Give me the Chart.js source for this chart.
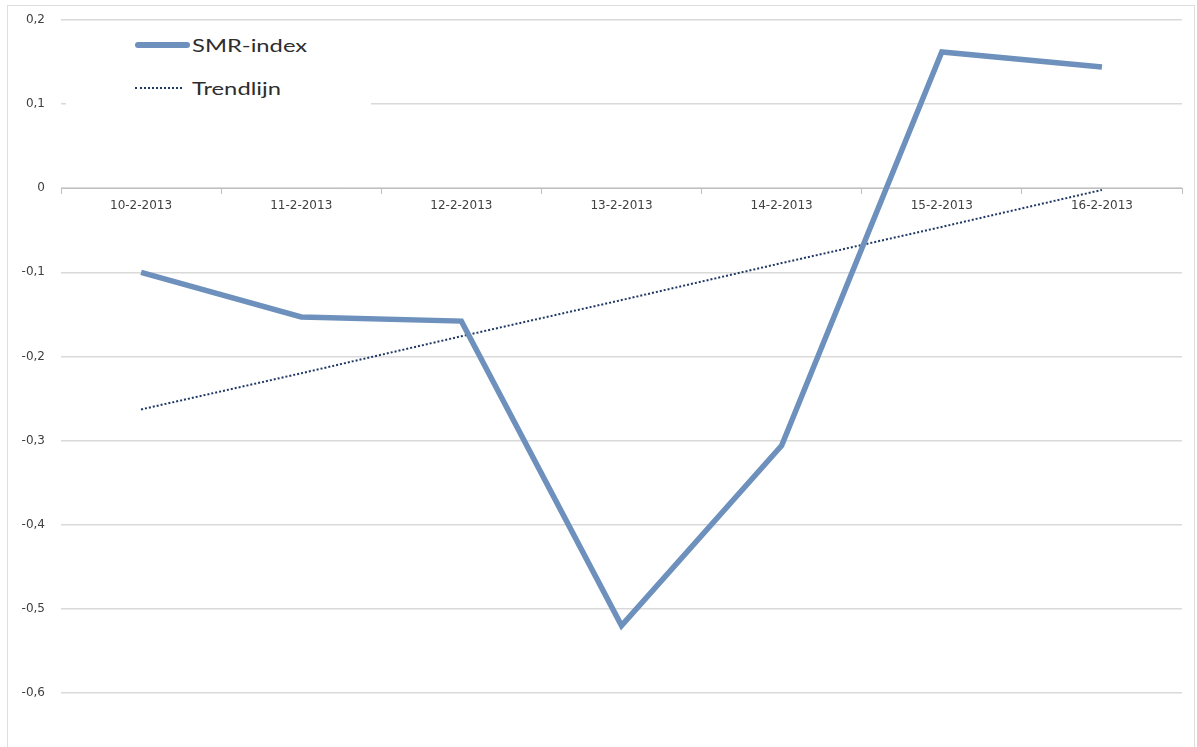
<!DOCTYPE html>
<html>
<head>
<meta charset="utf-8">
<script src="https://cdn.jsdelivr.net/npm/chart.js@4.4.1/dist/chart.umd.min.js"></script>
<style>
  html, body { margin: 0; padding: 0; background: #fff; overflow: hidden; }
  #wrap { position: relative; width: 1197px; height: 747px; overflow: hidden; }
  #chart { position: absolute; left: 0; top: 0; }
  #frame {
    position: absolute; left: 7px; top: 5px; width: 1186px; height: 800px;
    border: 1px solid #dedede; pointer-events: none;
  }
  #legend {
    position: absolute; left: 66px; top: 24px; width: 305px; height: 88px;
    background: #fff; font-family: Lato, "Open Sans", sans-serif;
    font-size: 18px; color: #2e2e2e;
  }
  #legend .item { position: absolute; left: 69px; height: 24px; line-height: 24px; white-space: nowrap; }
  #legend .swatch { position: absolute; left: 0; top: 12px; }
  #legend .text {
    position: absolute; left: 57px; top: 0;
    transform: scaleX(1.32); transform-origin: left center;
  }
</style>
</head>
<body>
<div id="wrap">
  <canvas id="chart" width="1197" height="802"></canvas>
  <div id="legend"></div>
  <div id="frame"></div>
</div>
<script>
// Daily SMR-index, February 2013
const dates = ['10-2-2013', '11-2-2013', '12-2-2013', '13-2-2013', '14-2-2013', '15-2-2013', '16-2-2013'];
const smrIndex = [-0.100, -0.153, -0.158, -0.520, -0.306, 0.162, 0.144];
const trendline = [-0.263, -0.220, -0.176, -0.133, -0.089, -0.046, -0.002];
const yTicks = { min: -0.7, max: 0.2, step: 0.1 };

const textColor = '#404040';
const gridColor = '#d9d9d9';
const tickFont = { family: '"DejaVu Sans", sans-serif', size: 12 };

// Dutch decimal comma, plain "0" for zero
function formatTick(v) {
    const r = Math.round(v * 10) / 10;
    return r === 0 ? '0' : r.toFixed(1).replace('.', ',');
}

// Build the legend as an HTML block that sits on top of the plot area
const htmlLegend = {
    id: 'htmlLegend',
    afterUpdate(chart) {
        const box = document.getElementById('legend');
        box.innerHTML = '';
        chart.data.datasets.forEach((ds, i) => {
            const item = document.createElement('div');
            item.className = 'item';
            item.style.top = (i * 43 + 9) + 'px';

            const sw = document.createElement('div');
            sw.className = 'swatch';
            if (ds.borderDash && ds.borderDash.length) {
                sw.style.width = '47px';
                sw.style.borderTop = '2px dotted ' + ds.borderColor;
                sw.style.marginTop = '-1px';
            } else {
                sw.style.width = '55px';
                sw.style.height = ds.borderWidth + 'px';
                sw.style.marginTop = (-ds.borderWidth / 2) + 'px';
                sw.style.background = ds.borderColor;
                sw.style.borderRadius = '3px';
            }

            const txt = document.createElement('span');
            txt.className = 'text';
            txt.textContent = ds.label;

            item.appendChild(sw);
            item.appendChild(txt);
            box.appendChild(item);
        });
    }
};

// Value labels for the y axis, right-aligned a fixed gap left of the plot
const yLabels = {
    id: 'yLabels',
    afterDraw(chart) {
        const scale = chart.scales.y;
        const ctx = chart.ctx;
        ctx.save();
        ctx.font = tickFont.size + 'px ' + tickFont.family;
        ctx.fillStyle = textColor;
        ctx.textAlign = 'right';
        ctx.textBaseline = 'middle';
        scale.ticks.forEach(t => {
            ctx.fillText(formatTick(t.value), chart.chartArea.left - 16, scale.getPixelForValue(t.value));
        });
        ctx.restore();
    }
};

new Chart(document.getElementById('chart'), {
    type: 'line',
    data: {
        labels: dates,
        datasets: [
            {
                label: 'SMR-index',
                data: smrIndex,
                borderColor: '#6d91bc',
                borderWidth: 5.5,
                borderJoinStyle: 'miter',
                pointRadius: 0,
                tension: 0,
                fill: false
            },
            {
                label: 'Trendlijn',
                data: trendline,
                borderColor: '#1f3864',
                borderWidth: 2,
                borderDash: [2, 2],
                pointRadius: 0,
                tension: 0,
                fill: false
            }
        ]
    },
    options: {
        responsive: false,
        animation: false,
        layout: { padding: { left: 61, right: 15, top: 20, bottom: 25 } },
        plugins: {
            legend: { display: false },
            tooltip: { enabled: false }
        },
        scales: {
            x: {
                type: 'category',
                position: { y: 0 },
                offset: true,
                border: { display: true, color: '#bfbfbf', width: 1 },
                grid: {
                    offset: true,
                    drawOnChartArea: false,
                    drawTicks: true,
                    tickLength: 5,
                    color: '#bfbfbf'
                },
                ticks: {
                    color: textColor,
                    padding: 5,
                    maxRotation: 0,
                    font: tickFont
                }
            },
            y: {
                min: yTicks.min,
                max: yTicks.max,
                border: { display: false },
                grid: { color: gridColor, lineWidth: 1.5, drawTicks: false },
                ticks: {
                    stepSize: yTicks.step,
                    display: false
                }
            }
        }
    },
    plugins: [htmlLegend, yLabels]
});
</script>
</body>
</html>
